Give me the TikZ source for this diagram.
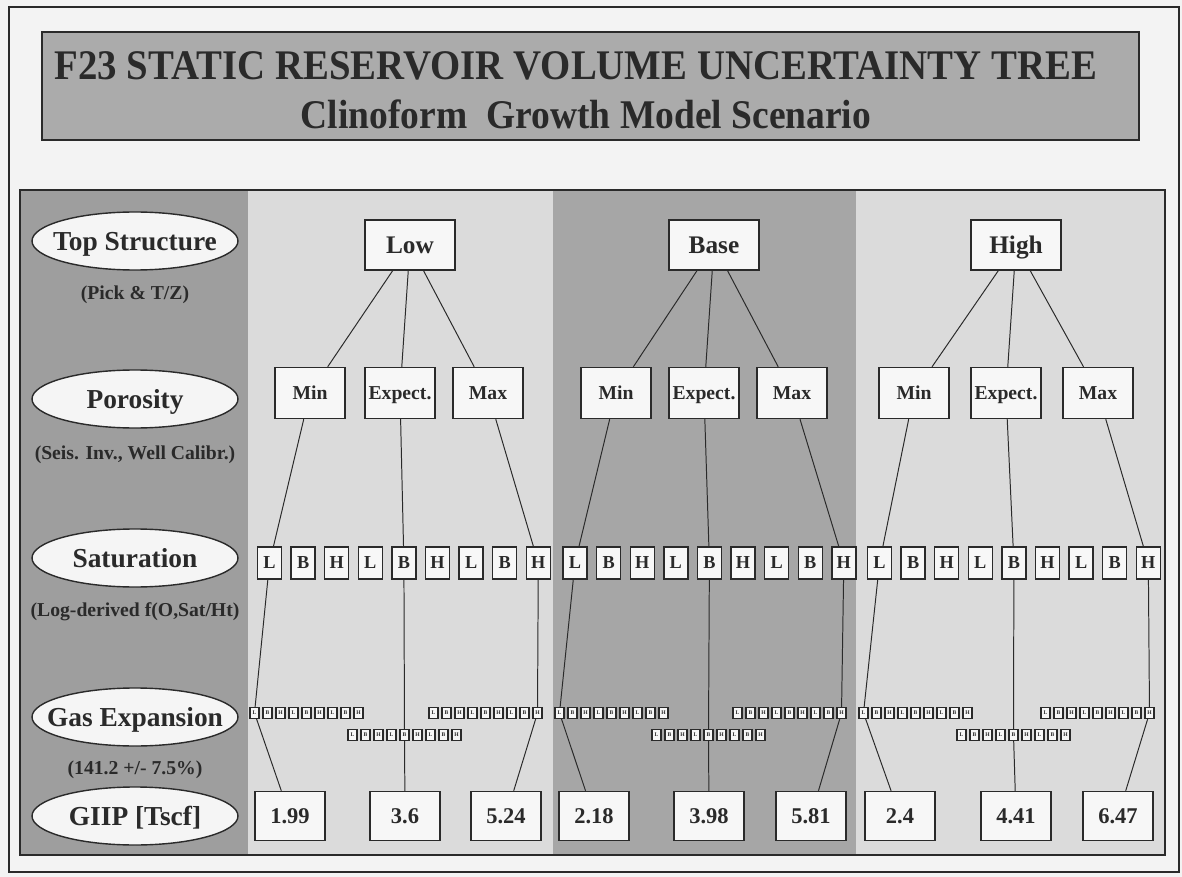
\documentclass[tikz,border=0pt]{standalone}
\usepackage{fontspec}
\setmainfont{Liberation Serif}
\usepackage{tikz}
\usetikzlibrary{shapes.geometric}
\definecolor{page}{HTML}{F3F3F3}
\definecolor{titlegray}{HTML}{ABABAB}
\definecolor{labelgray}{HTML}{9E9E9E}
\definecolor{lightgray}{HTML}{DBDBDB}
\definecolor{darkgray}{HTML}{A6A6A6}
\definecolor{ink}{HTML}{2A2A2A}

\tikzset{
  rowlabel/.style={ellipse,draw=ink,line width=1pt,fill=white!96!black,inner sep=0pt,text depth=0pt,
    minimum width=51.5mm,minimum height=14.5mm,font=\fontsize{19.5}{22}\selectfont\bfseries,text=ink},
  rownote/.style={font=\fontsize{14}{16}\selectfont\bfseries,text=ink},
  treebox/.style={draw=ink,line width=1pt,fill=white!97!black,inner sep=0pt,text=ink,text depth=0pt},
  topbox/.style={treebox,minimum width=22.5mm,minimum height=12.5mm,font=\fontsize{18}{20}\selectfont\bfseries},
  porobox/.style={treebox,minimum width=17.5mm,minimum height=12.75mm,font=\fontsize{14}{16}\selectfont\bfseries},
  satbox/.style={treebox,minimum width=6mm,minimum height=8mm,font=\fontsize{13}{14}\selectfont\bfseries},
  gasbox/.style={treebox,line width=0.8pt,minimum width=2.25mm,minimum height=2.75mm,
    font=\fontsize{4}{4}\selectfont\bfseries},
  giipbox/.style={treebox,minimum width=17.5mm,minimum height=12.25mm,font=\fontsize{16}{18}\selectfont\bfseries},
  link/.style={draw=ink,line width=0.7pt}
}

\begin{document}
\begin{tikzpicture}[x=0.25mm,y=-0.25mm]
  % page and frames
  \fill[page] (0,0) rectangle (1182,877);
  \draw[ink,line width=0.8pt] (9,7) rectangle (1179,872);
  \draw[ink,line width=1pt,fill=titlegray] (42,32) rectangle (1139,140);
  \node[text=ink,font=\fontsize{30}{32}\selectfont\bfseries] (title) at (576,66)
    {\scalebox{0.92}[1]{F23 STATIC RESERVOIR VOLUME UNCERTAINTY TREE}};
  \node[text=ink,font=\fontsize{29}{31}\selectfont\bfseries] (subtitle) at (586,114)
    {\scalebox{0.92}[1]{Clinoform\ \ Growth Model Scenario}};

  % background columns
  \fill[labelgray] (20,190) rectangle (248,855);
  \fill[lightgray] (248,190) rectangle (553,855);
  \fill[darkgray] (553,190) rectangle (856,855);
  \fill[lightgray] (856,190) rectangle (1165,855);
  \draw[ink,line width=1.6pt] (20,190) rectangle (1165,855);

  % row labels
  \node[rowlabel] (toplbl) at (135,241) {\makebox[0pt]{Top Structure}};
  \node[rownote] (topnote) at (135,295) {(Pick \& T/Z)};
  \node[rowlabel] (porolbl) at (135,399) {\makebox[0pt]{Porosity}};
  \node[rownote] (poronote) at (135,455) {(Seis. Inv., Well Calibr.)};
  \node[rowlabel] (satlbl) at (135,558) {\makebox[0pt]{Saturation}};
  \node[rownote] (satnote) at (135,612) {(Log-derived f(O,Sat/Ht)};
  \node[rowlabel] (gaslbl) at (135,717) {\makebox[0pt]{Gas Expansion}};
  \node[rownote] (gasnote) at (135,770) {(141.2 +/- 7.5\%)};
  \node[rowlabel] (giiplbl) at (135,816) {\makebox[0pt]{GIIP [Tscf]}};

  % one tree per top structure case
  \foreach \col/\name/\tx/\pa/\pb/\pc/\sx/\gm/\ge/\gx/\xa/\xb/\xc/\va/\vb/\vc in {
      low/Low/410/310/400/488/269.5/254.5/352.5/433.5/290/405/506/1.99/3.6/5.24,
      base/Base/714/616/704/792/575/559.5/656.5/737.5/594/709/811/2.18/3.98/5.81,
      high/High/1016/914/1006/1098/879.5/863.5/961.5/1045.5/900/1016/1118/2.4/4.41/6.47}{
    \node[topbox] (\col) at (\tx,245) {\name};
    \node[porobox] (\col-min) at (\pa,393) {Min};
    \node[porobox] (\col-exp) at (\pb,393) {Expect.};
    \node[porobox] (\col-max) at (\pc,393) {Max};
    \foreach \k/\ch in {0/L,1/B,2/H,3/L,4/B,5/H,6/L,7/B,8/H}{
      \node[satbox] (\col-s\k) at ({\sx+33.6*\k},563) {\ch};
      \node[gasbox] (\col-gmin\k) at ({\gm+13*\k},713) {\ch};
      \node[gasbox] (\col-gexp\k) at ({\ge+13*\k},735) {\ch};
      \node[gasbox] (\col-gmax\k) at ({\gx+13*\k},713) {\ch};
    }
    \node[giipbox] (\col-v1) at (\xa,816) {\va};
    \node[giipbox] (\col-v2) at (\xb,816) {\vb};
    \node[giipbox] (\col-v3) at (\xc,816) {\vc};
    % branches
    \draw[link] (\col) -- (\col-min);
    \draw[link] (\col) -- (\col-exp);
    \draw[link] (\col) -- (\col-max);
    \draw[link] (\col-min) -- (\col-s0);
    \draw[link] (\col-exp) -- (\col-s4);
    \draw[link] (\col-max) -- (\col-s8);
    \draw[link] (\col-s0) -- (\col-gmin0) -- (\col-v1);
    \draw[link] (\col-s4) -- (\col-gexp4) -- (\col-v2);
    \draw[link] (\col-s8) -- (\col-gmax8) -- (\col-v3);
  }
\end{tikzpicture}
\end{document}
